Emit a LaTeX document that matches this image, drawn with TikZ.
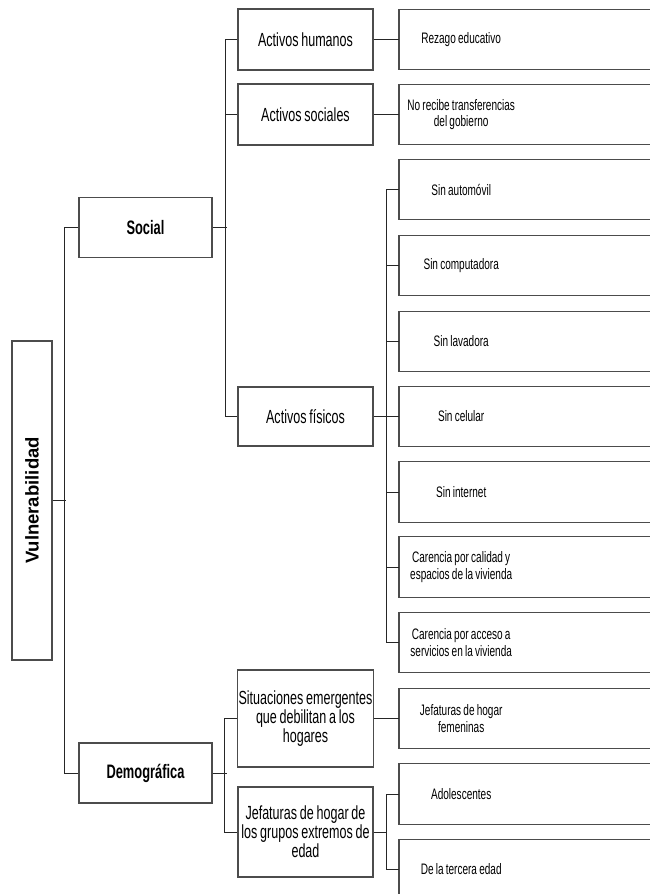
\documentclass[tikz,border=0pt]{standalone}
\usepackage{fontspec}
\newfontfamily\narrowsans{Liberation Sans}[FakeStretch=0.66,WordSpace=0.8]
\newfontfamily\plainsans{Liberation Sans}
\usepackage{tikz}
\usetikzlibrary{positioning,calc}
\tikzset{
  frame/.style={draw=black!70,line width=1.2pt},
  box/.style={frame,align=center},
  root/.style={box,minimum width=40pt,minimum height=319pt,inner sep=0pt},
  dim/.style={box,minimum width=133pt,minimum height=60pt,
    font=\narrowsans\bfseries\fontsize{19.5}{21}\selectfont},
  asset/.style={box,minimum width=135pt,inner sep=1pt,
    font=\narrowsans\fontsize{19}{19}\selectfont},
  leaf/.style={align=flush center,anchor=west,text width=116pt,inner xsep=4pt,
    minimum height=60pt,font=\narrowsans\fontsize{15.2}{16.5}\selectfont},
  link/.style={draw=black!85,line width=1pt},
}

\begin{document}
\begin{tikzpicture}[x=1pt,y=-1pt]
  \useasboundingbox (0,0) rectangle (650,894);
  \clip (0,0) rectangle (650,894);

  % main branches
  \node[root] (vul) at (32,500.5)
    {\rotatebox{90}{\plainsans\bfseries\fontsize{18.5}{21}\selectfont Vulnerabilidad}};
  \node[dim] (social) at (145.5,227.5) {Social};
  \node[dim] (demo) at (145.5,773) {Demográfica};

  \node[asset,minimum height=61pt] (ahum) at (305.5,39.5) {Activos humanos};
  \node[asset,minimum height=61pt] (asoc) at (305.5,114.5) {Activos sociales};
  \node[asset,minimum height=59pt] (afis) at (305.5,416.5) {Activos físicos};
  \node[asset,minimum height=97pt] (sit) at (305.5,718.5)
    {Situaciones emergentes\\que debilitan a los\\hogares};
  \node[asset,minimum height=90pt] (jef) at (305.5,832)
    {Jefaturas de hogar de\\los grupos extremos de\\edad};

  % indicators
  \foreach \n/\y/\t in {
      1/39.5/{Rezago educativo},
      2/114.5/{No recibe transferencias\\del gobierno},
      3/189.5/{Sin automóvil},
      4/265.5/{Sin computadora},
      5/341.5/{Sin lavadora},
      6/416.5/{Sin celular},
      7/492/{Sin internet},
      8/567/{Carencia por calidad y\\espacios de la vivienda},
      9/642.5/{Carencia por acceso a\\servicios en la vivienda},
      10/718.5/{Jefaturas de hogar\\femeninas},
      11/794/{Adolescentes},
      12/869.5/{De la tercera edad}}{
    \node[leaf] (r\n) at (399,\y) {\t};
    \draw[frame] (r\n.south west) rectangle ([xshift=140pt]r\n.north east);
  }

  % connectors
  \draw[link] (vul.east) -- ++(13,0);
  \draw[link] (social.west) -- ++(-14,0) |- (demo.west);

  \draw[link] (social.east) -- ++(14,0);
  \draw[link] (ahum.west) -- ++(-12,0) |- (afis.west);
  \draw[link] (asoc.west) -- ++(-12,0);
  \draw[link] (ahum.east) -- (r1.west);
  \draw[link] (asoc.east) -- (r2.west);

  \draw[link] (afis.east) -- ++(13,0);
  \draw[link] (r3.west) -- ++(-13,0) |- (r9.west);
  \foreach \n in {4,...,8}
    \draw[link] (r\n.west) -- ++(-13,0);

  \draw[link] (demo.east) -- ++(14,0);
  \draw[link] (sit.west) -- ++(-12,0) |- (jef.west);
  \draw[link] (sit.east) -- (r10.west);
  \draw[link] (jef.east) -- ++(13,0);
  \draw[link] (r11.west) -- ++(-13,0) |- (r12.west);
\end{tikzpicture}
\end{document}
